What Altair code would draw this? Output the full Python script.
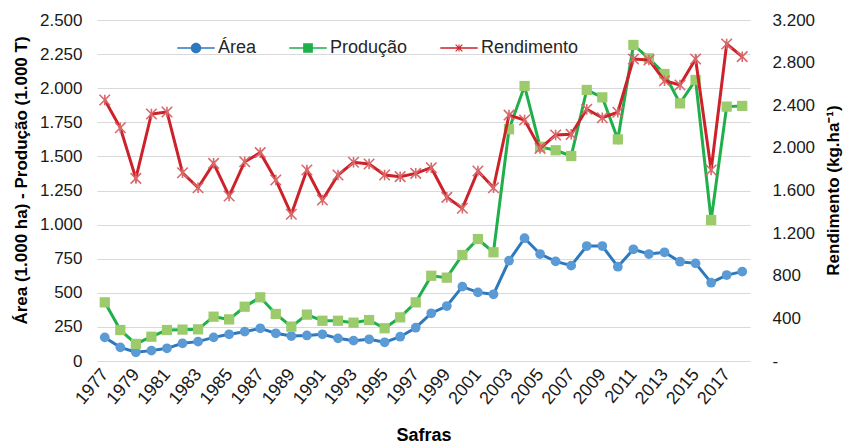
import altair as alt
import pandas as pd

years = [str(y) for y in range(1977, 2019)]
area = [173, 100, 64, 76, 93, 130, 142, 173, 196, 215, 240, 203, 183, 187,
        196, 166, 149, 159, 137, 178, 244, 350, 403, 545, 503, 489, 735, 900,
        784, 730, 699, 843, 843, 691, 819, 784, 797, 728, 716, 574, 630, 655]
producao = [430, 227, 125, 178, 227, 230, 232, 325, 305, 398, 467, 345, 252, 340,
            295, 295, 281, 300, 240, 320, 430, 625, 611, 777, 894, 797, 1699, 2016,
            1570, 1545, 1503, 1987, 1933, 1625, 2317, 2219, 2104, 1889, 2060, 1034, 1865, 1870]
rendimento = [2449, 2189, 1714, 2318, 2337, 1767, 1626, 1855, 1548, 1870, 1955, 1699, 1377, 1792,
              1511, 1745, 1865, 1849, 1745, 1730, 1761, 1814, 1536, 1433, 1783, 1626, 2308, 2262,
              1995, 2121, 2127, 2362, 2283, 2334, 2834, 2825, 2630, 2590, 2834, 1792, 2975, 2856]
series = ["Área", "Produção", "Rendimento"]
left_ticks = list(range(0, 2501, 250))
right_ticks = list(range(0, 3201, 400))

df = pd.DataFrame({"Ano": years, "Área": area, "Produção": producao, "Rendimento": rendimento})

FONT = "Liberation Sans"
BLUE_L, BLUE_M = "#2E78BE", "#5B9BD5"
GREEN_L, GREEN_M = "#1FAF4B", "#9BCB6B"
RED_L, RED_M = "#CC2229", "#D9686B"

fmt = "replace(format(datum.value, ',d'), regexp(',', 'g'), '.')"

x_enc = alt.X(
    "Ano:O",
    scale=alt.Scale(type="point", padding=0.5),
    axis=alt.Axis(values=years[::2], labelAngle=-50, labelAlign="right", labelBaseline="middle",
                  labelPadding=10, labelFontSize=18, domain=False, ticks=False, grid=False,
                  title="Safras", titleY=74, titleBaseline="middle", titleFontSize=18),
)

yl_scale = alt.Scale(domain=[0, 2500])
yl_axis = alt.Axis(values=left_ticks, labelExpr=fmt, grid=True, gridColor="#D9D9D9",
                   domain=False, ticks=False, labelPadding=15,
                   title="Área (1.000 ha) - Produção (1.000 T)", titleAngle=270,
                   titleX=-76, titleY=160, titleAlign="center", titleBaseline="middle")

yr_scale = alt.Scale(domain=[0, 3200])
yr_axis = alt.Axis(orient="right", values=right_ticks,
                   labelExpr="datum.value == 0 ? '-' : " + fmt, grid=False,
                   domain=False, ticks=False, labelPadding=22, labelAlign="left",
                   title="Rendimento (kg.ha⁻¹)", titleAngle=270,
                   titleX=83, titleY=170, titleAlign="center", titleBaseline="middle")

base = alt.Chart(df)

area_line = base.mark_line(color=BLUE_L, strokeWidth=3).encode(
    x=x_enc, y=alt.Y("Área:Q", scale=yl_scale, axis=yl_axis))
area_pts = base.mark_point(shape="circle", filled=True, color=BLUE_M, opacity=1, size=95).encode(
    x=x_enc, y=alt.Y("Área:Q", scale=yl_scale, axis=yl_axis))
prod_line = base.mark_line(color=GREEN_L, strokeWidth=3).encode(
    x=x_enc, y=alt.Y("Produção:Q", scale=yl_scale, axis=yl_axis))
prod_pts = base.mark_point(shape="square", filled=True, color=GREEN_M, opacity=1, size=105).encode(
    x=x_enc, y=alt.Y("Produção:Q", scale=yl_scale, axis=yl_axis))

# legend symbols: line segment + marker
p_area = ("M-1,-0.045H1V0.045H-1Z "
          "M0.28,0A0.28,0.28 0 1,1 -0.28,0A0.28,0.28 0 1,1 0.28,0Z")
p_prod = "M-1,-0.045H1V0.045H-1Z M-0.26,-0.26H0.26V0.26H-0.26Z"
p_rend = ("M-1,-0.045H1V0.045H-1Z "
          "M-0.159,-0.201L0.201,0.159L0.159,0.201L-0.201,-0.159Z "
          "M0.201,-0.159L-0.159,0.201L-0.201,0.159L0.159,-0.201Z "
          "M-0.025,-0.2H0.025V0.2H-0.025Z")

leg = alt.Legend(title=None, orient="none", legendX=80, legendY=9, direction="horizontal",
                 symbolSize=1400, symbolOpacity=1, symbolStrokeWidth=0, labelFontSize=18,
                 labelFont=FONT, labelColor="#262626", labelOffset=3, columnPadding=32)

legend_layer = base.transform_fold(series, as_=["serie", "v"]).mark_point(
    filled=True, opacity=0).encode(
    x=alt.value(0), y=alt.value(0),
    color=alt.Color("serie:N", scale=alt.Scale(domain=series, range=[BLUE_L, GREEN_L, RED_L]), legend=leg),
    shape=alt.Shape("serie:N", scale=alt.Scale(domain=series, range=[p_area, p_prod, p_rend]), legend=leg),
)

rend_line = base.mark_line(color=RED_L, strokeWidth=3).encode(
    x=x_enc, y=alt.Y("Rendimento:Q", scale=yr_scale, axis=yr_axis))
rend_pts = base.mark_point(shape="M-1,-1L1,1M-1,1L1,-1M0,-1L0,1", filled=False, color=RED_M,
                           strokeWidth=1.6, opacity=1, size=110).encode(
    x=x_enc, y=alt.Y("Rendimento:Q", scale=yr_scale, axis=yr_axis))

left = alt.layer(area_line, area_pts, prod_line, prod_pts, legend_layer)
right = alt.layer(rend_line, rend_pts)

chart = alt.layer(left, right).resolve_scale(y="independent").properties(
    width=653, height=341,
    autosize=alt.AutoSizeParams(type="none"),
    padding={"left": 89, "top": 12, "right": 93, "bottom": 83},
).configure_view(stroke=None).configure_axis(
    labelFont=FONT, titleFont=FONT, labelFontSize=17, titleFontSize=17,
    titleFontWeight="bold", labelColor="#1a1a1a", titleColor="#000000",
)

chart.save("out.html", embed_options={"renderer": "svg", "actions": False})
